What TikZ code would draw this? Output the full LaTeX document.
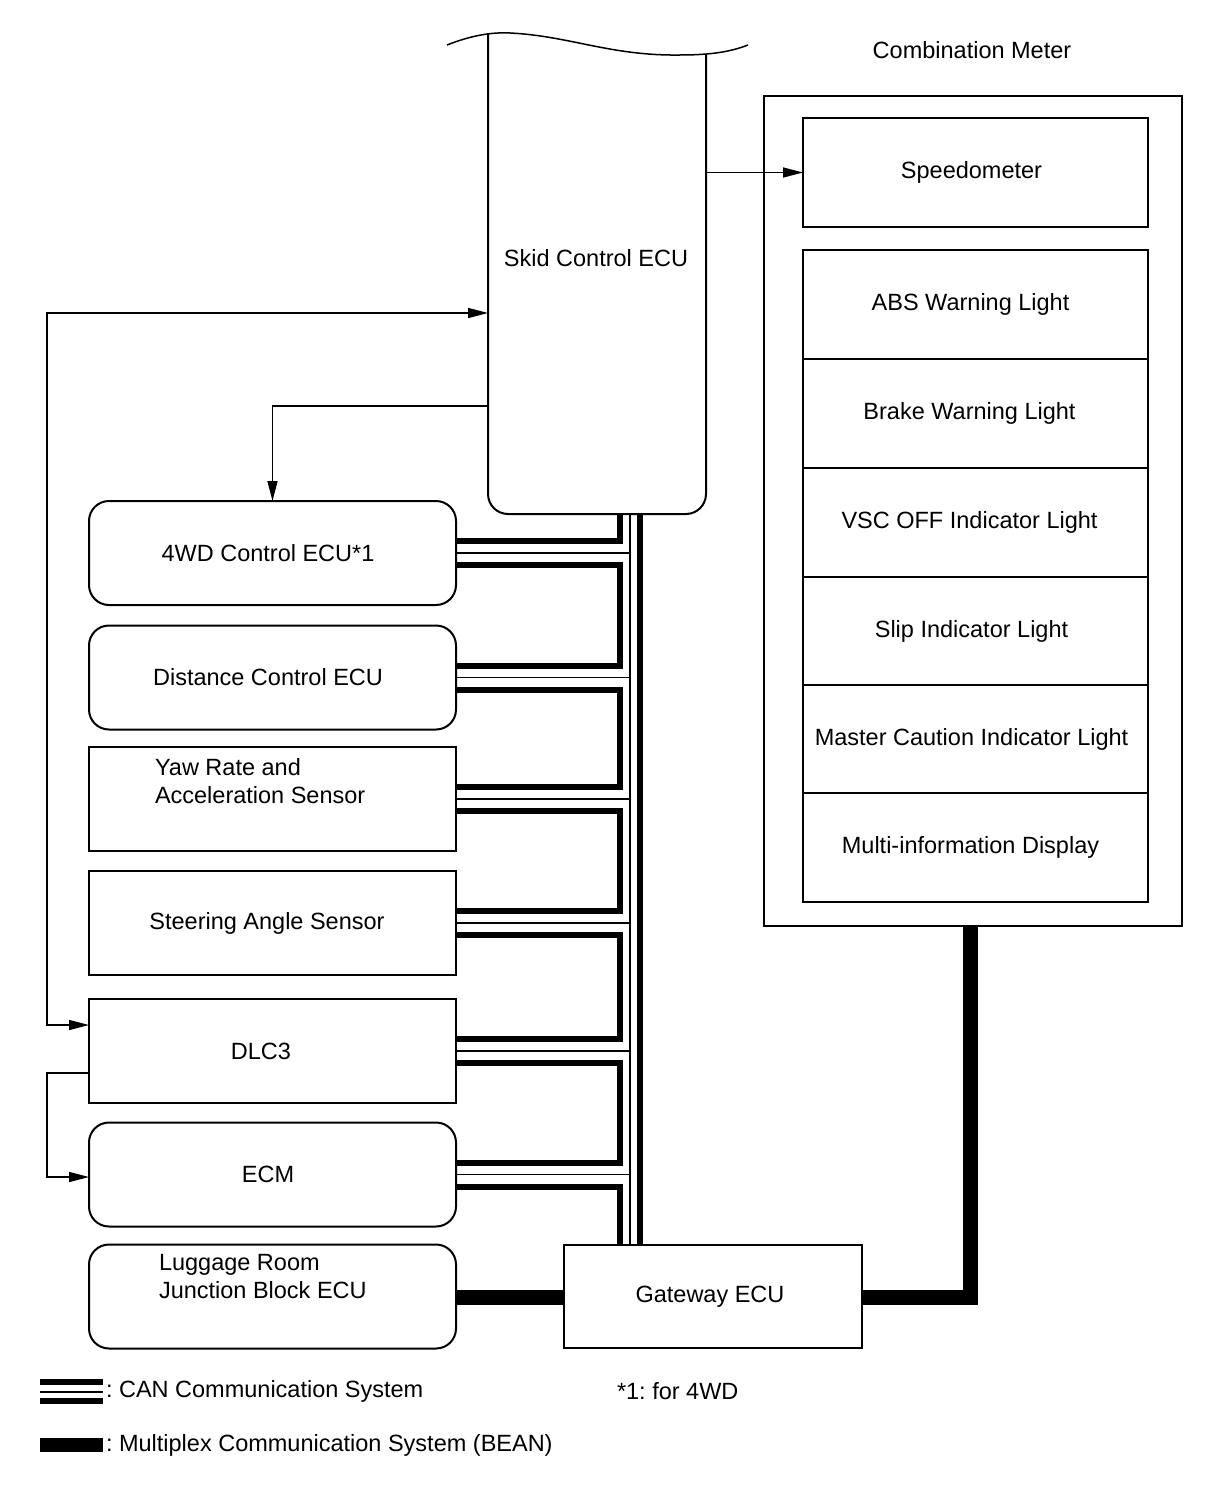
\documentclass[tikz,border=0pt]{standalone}
\usepackage{fontspec}
\setmainfont{Liberation Sans}
\usetikzlibrary{arrows.meta}
\newcommand\dfont{\fontsize{23.5}{28}\selectfont}
\frenchspacing
\begin{document}
\begin{tikzpicture}[x=1pt,y=-1pt,
  lbl/.style={font=\dfont, inner sep=0pt, outer sep=0pt},
  box/.style={draw, line width=2pt, minimum width=367pt, minimum height=104pt, outer sep=0pt, inner sep=0pt, font=\dfont},
  rbox/.style={box, rounded corners=20pt},
  mbox/.style={draw, line width=2pt, minimum width=345pt, outer sep=0pt, inner sep=0pt, font=\dfont},
  tleft/.style={execute at end node={\hspace*{#1}}},
  arr/.style={line width=1.5pt, -{Triangle[length=20pt,width=10pt]}},
  darr/.style={line width=1.5pt, {Triangle[length=20pt,width=10pt]}-{Triangle[length=20pt,width=10pt]}},
  canthick/.style={line width=6pt},
  canthin/.style={line width=1.6pt},
  bean/.style={line width=15pt},
]
\useasboundingbox (0,0) rectangle (1210,1498);

% Skid Control ECU
\node[minimum width=218pt, minimum height=481pt, outer sep=0pt, inner sep=0pt] (skid) at (597,273.5) {};
\node[lbl] (skidlbl) at (596,258) {Skid Control ECU};
\draw[line width=2pt, rounded corners=20pt] (488,34) -- (488,514) -- (706,514) -- (706,54);
\draw[line width=1.5pt] (447,45) .. controls (470,36) and (490,32) .. (510,33)
  .. controls (570,36) and (610,56) .. (680,55) .. controls (710,55) and (730,52) .. (748,45);

% Combination meter
\node[lbl] (cmlbl) at (972,50) {Combination Meter};
\node[draw, line width=2pt, minimum width=418pt, minimum height=830pt, outer sep=0pt, inner sep=0pt] (cm) at (973,511) {};
\node[mbox, minimum height=109pt, tleft=8pt] (spd) at (975.5,172.5) {Speedometer};
\node[mbox, minimum height=109pt, tleft=10pt] (abs) at (975.5,304.5) {ABS Warning Light};
\node[mbox, minimum height=109pt, tleft=12pt] (brk) at (975.5,413.5) {Brake Warning Light};
\node[mbox, minimum height=109pt, tleft=12pt] (vsc) at (975.5,522.5) {VSC OFF Indicator Light};
\node[mbox, minimum height=108pt, tleft=8pt] (slp) at (975.5,631) {Slip Indicator Light};
\node[mbox, minimum height=108pt, tleft=8pt] (mst) at (975.5,739) {Master Caution Indicator Light};
\node[mbox, minimum height=109pt, tleft=10pt] (mid) at (975.5,847.5) {Multi-information Display};

% Left column
\node[rbox, tleft=9pt] (fwd) at (272.5,553) {4WD Control ECU*1};
\node[rbox, tleft=9pt] (dist) at (272.5,677.5) {Distance Control ECU};
\node[box] (yaw) at (272.5,799) {};
\node[lbl, anchor=west, align=left] (yawlbl) at (155,781) {Yaw Rate and\\Acceleration Sensor};
\node[box, tleft=11pt] (steer) at (272.5,923) {Steering Angle Sensor};
\node[box, tleft=23pt] (dlc) at (272.5,1051) {DLC3};
\node[rbox, tleft=9pt] (ecm) at (272.5,1174.5) {ECM};
\node[rbox] (lug) at (272.5,1296.5) {};
\node[lbl, anchor=west, align=left] (luglbl) at (159,1277) {Luggage Room\\Junction Block ECU};
\node[draw, line width=2pt, minimum width=298pt, minimum height=103pt, outer sep=0pt, inner sep=0pt, font=\dfont, tleft=6pt] (gw) at (713,1296.5) {Gateway ECU};

% Signal arrows
\draw[arr] (skid.east |- spd.west) -- (spd.west);
\draw[arr] (skid.west |- 0,406) -| (fwd.north);
\draw[darr] (dlc.west |- 0,1025) -| (47,313) -- (skid.west |- 0,313);
\draw[arr] (dlc.west |- 0,1073) -| (47,1177) -- (ecm.west |- 0,1177);

% CAN bus: daisy-chained thick line
\draw[canthick] (skid.south -| 620,0) -- (620,541) -- (fwd.east |- 0,541);
\draw[canthick] (fwd.east |- 0,565) -- (620,565) -- (620,665.5) -- (dist.east |- 0,665.5);
\draw[canthick] (dist.east |- 0,689.5) -- (620,689.5) -- (620,787) -- (yaw.east |- 0,787);
\draw[canthick] (yaw.east |- 0,811) -- (620,811) -- (620,911) -- (steer.east |- 0,911);
\draw[canthick] (steer.east |- 0,935) -- (620,935) -- (620,1039) -- (dlc.east |- 0,1039);
\draw[canthick] (dlc.east |- 0,1063) -- (620,1063) -- (620,1162.5) -- (ecm.east |- 0,1162.5);
\draw[canthick] (ecm.east |- 0,1186.5) -- (620,1186.5) -- (gw.north -| 620,0);
% CAN bus: thin line and branches
\draw[canthin] (skid.south -| 630,0) -- (gw.north -| 630,0);
\foreach \n in {fwd,dist,yaw,steer,dlc,ecm}{
  \draw[canthin] (\n.east) -- (\n.east -| 630,0);
}
% CAN bus: straight thick line
\draw[canthick] (skid.south -| 640,0) -- (gw.north -| 640,0);

% BEAN
\draw[bean] (cm.south -| 970,0) -- (970,1297) -- (gw.east |- 0,1297);
\draw[bean] (lug.east |- 0,1297) -- (gw.west |- 0,1297);

% Legend
\draw[canthick] (40,1382) -- (103,1382);
\draw[canthin] (40,1392) -- (103,1392);
\draw[canthick] (40,1401) -- (103,1401);
\node[lbl, anchor=west] (lgcan) at (106,1391) {: CAN Communication System};
\draw[line width=14pt] (40,1445) -- (103,1445);
\node[lbl, anchor=west] (lgbean) at (106,1445) {: Multiplex Communication System (BEAN)};
\node[lbl, anchor=west] (note) at (617,1391) {*1: for 4WD};
\end{tikzpicture}
\end{document}
